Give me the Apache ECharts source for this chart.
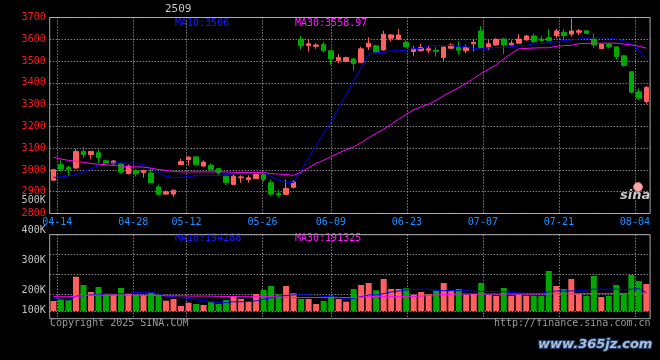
<!DOCTYPE html>
<html><head><meta charset="utf-8">
<script src="https://cdn.jsdelivr.net/npm/echarts@6/dist/echarts.min.js"></script>
<style>html,body{margin:0;padding:0;background:#000;}#c{width:660px;height:360px;}</style>
</head><body><div id="c"></div>
<script>
const dates = ['04-11',
'04-14','04-15','04-16','04-17','04-18','04-21','04-22','04-23','04-24','04-25',
'04-28','04-29','04-30','05-06','05-07','05-08','05-09',
'05-12','05-13','05-14','05-15','05-16','05-19','05-20','05-21','05-22','05-23',
'05-26','05-27','05-28','05-29','05-30','06-03','06-04','06-05','06-06',
'06-09','06-10','06-11','06-12','06-13','06-16','06-17','06-18','06-19','06-20',
'06-23','06-24','06-25','06-26','06-27','06-30','07-01','07-02','07-03','07-04',
'07-07','07-08','07-09','07-10','07-11','07-14','07-15','07-16','07-17','07-18',
'07-21','07-22','07-23','07-24','07-25','07-28','07-29','07-30','07-31','08-01',
'08-04','08-05','08-06'];
const dateLabels = ['04-14','04-28','05-12','05-26','06-09','06-23','07-07','07-21','08-04'];

const opens  = [2953,3024,3012,3009,3085,3071,3079,3042,3029,3028,2983,2998,2988,2986,2922,2889,2889,3025,3048,3060,3018,3021,3006,2971,2933,2964,2956,2960,2979,2941,2892,2888,2920,
3601,3571,3568,3577,3547,3501,3498,3510,3494,3565,3570,3551,3605,3600,3586,3544,3547,3550,3550,3516,3559,3562,3547,3579,3638,3564,3574,3601,3574,3582,3597,3615,3601,3607,3617,3632,3624,3632,3639,3601,3557,3577,3565,3524,3451,3359,3314];
const closes = [3001,3003,3001,3085,3071,3085,3057,3029,3041,2990,3018,2982,2998,2942,2888,2900,2907,3039,3059,3024,3036,3001,2986,2942,2971,2968,2964,2979,2957,2889,2886,2915,2945,
3570,3579,3574,3547,3510,3516,3516,3488,3556,3582,3541,3623,3620,3620,3565,3556,3562,3556,3544,3564,3574,3550,3562,3586,3562,3579,3600,3574,3582,3601,3615,3589,3594,3594,3638,3617,3638,3639,3627,3574,3577,3566,3521,3480,3357,3329,3379];
const lows   = [2948,2991,2972,3005,3055,3051,3030,3025,3020,2983,2980,2970,2965,2938,2882,2885,2877,3025,3021,3022,3014,3000,2975,2929,2933,2942,2942,2958,2945,2880,2874,2885,2915,
3551,3544,3556,3541,3483,3491,3495,3456,3492,3551,3538,3548,3589,3598,3563,3524,3544,3536,3521,3501,3556,3529,3536,3544,3560,3551,3570,3532,3572,3580,3595,3582,3586,3592,3605,3597,3612,3620,3625,3559,3555,3559,3509,3474,3351,3321,3305];
const highs  = [3005,3044,3021,3097,3105,3087,3094,3048,3046,3032,3025,3003,3001,3006,2933,2905,2910,3051,3062,3062,3044,3030,3008,2975,2980,2975,2975,2983,2991,2956,2910,2956,2953,
3615,3597,3582,3589,3550,3532,3520,3512,3565,3609,3575,3639,3624,3647,3595,3570,3579,3570,3564,3566,3582,3592,3575,3601,3660,3597,3605,3607,3595,3623,3620,3627,3616,3647,3647,3647,3695,3647,3642,3627,3579,3583,3567,3526,3453,3374,3385];

const ma10 = [2966,2968,2972,2980,2991,3005,3020,3028,3032,3032,3031,3031,3025,3008,2988,2970,2965,2966,2970,2974,2974,2974,2975,2978,2983,2989,2991,2991,2985,2970,2955,2943,2942,
2998,3055,3112,3169,3222,3284,3346,3408,3470,3532,3539,3540,3547,3547,3550,3557,3558,3570,3571,3571,3571,3566,3566,3557,3556,3560,3562,3562,3566,3570,3572,3579,3580,3584,3589,3594,3597,3601,3603,3608,3607,3606,3600,3592,3578,3548,3506];
const ma30 = [3059,3050,3044,3040,3035,3030,3026,3024,3021,3018,3015,3014,3013,3008,3002,2998,2993,2991,2991,2991,2991,2991,2991,2991,2989,2988,2988,2988,2988,2983,2981,2979,2975,
2990,3010,3030,3045,3060,3078,3093,3106,3125,3148,3168,3188,3210,3233,3255,3276,3290,3302,3320,3341,3360,3378,3398,3420,3443,3463,3483,3510,3535,3556,3558,3560,3561,3561,3568,3571,3572,3580,3581,3582,3582,3582,3582,3578,3574,3568,3559];

const volumes = [165700,172300,169000,246700,219000,195700,212300,188000,186700,209000,191300,185700,185700,192300,185700,166700,172300,149000,160000,155700,152300,163300,155700,169000,182300,172300,165700,189000,202300,215700,188000,215700,191300,
172300,172300,155700,165700,183300,172300,163300,205700,219000,225700,201300,239000,205700,205700,208000,186700,195700,188000,201300,225700,200000,205700,185700,189000,225700,185700,182300,209000,182300,186700,183300,183300,183300,265700,215700,205700,239000,189000,183300,249000,179000,183300,219000,192300,252300,232300,222300];
const volMa10 = [172000,172000,168000,182000,183000,186000,186000,190000,190000,190000,190000,194000,195000,195000,190000,182000,180000,177000,175000,169000,168000,162000,161000,160000,163000,163000,164000,166000,172000,176000,182000,184000,186000,
186000,186000,184000,181000,180000,178000,172000,174000,180000,186000,186000,190000,196000,199000,202000,204000,205000,205000,201000,200000,200000,200000,200000,198000,198000,197000,197000,197000,194000,192000,191000,191000,191000,196000,199000,199000,199000,200000,202000,205000,205000,205000,205000,204000,205000,207000,194288];
const volMa30 = [180000,180000,180000,181000,183000,184000,185000,185000,185000,185000,185000,185000,185000,184000,184000,183000,183000,183000,182000,182000,182000,182000,181000,181000,180000,180000,180000,180000,180000,180000,179000,178000,177000,
177000,177000,177000,177000,177000,177000,177000,177000,178000,180000,181000,181000,181000,181000,181000,181000,182000,184000,186000,187000,188000,189000,189000,189000,189000,189000,189000,189000,189000,189000,189000,189000,189000,190000,190000,190000,190000,190000,191000,191000,191000,191000,191000,191000,191000,191000,191325];

const priceTicks = {min: 2800, max: 3700, step: 100};
const volLabelTicks = {min: 100000, max: 500000, step: 100000};
const maTexts = {priceMa10: 'MA10:3506', priceMa30: 'MA30:3558.97', volMa10: 'MA10:194288', volMa30: 'MA30:191325'};

const UP = '#ff5f5f', DOWN = '#00a800';
const MONO = '"DejaVu Sans Mono", "Liberation Mono", monospace';
const GRIDC = '#bdbdbd', BORDERC = '#a8a8a8';
const labelSet = new Set(dateLabels);
const showLabel = (i, v) => labelSet.has(v);

const candleData = opens.map((o, i) => [o, closes[i], lows[i], highs[i]]);
const volData = volumes.map((v, i) => ({value: v, itemStyle: {color: closes[i] >= opens[i] ? UP : DOWN}}));

const L = 49.7, W = 600.4;
const volBase = 132300, volTop = 386667;
const dotted = {color: GRIDC, width: 1, type: [1, 2]};

const chart = echarts.init(document.getElementById('c'), null, {renderer: 'canvas'});
chart.setOption({
  backgroundColor: '#000',
  animation: false,
  grid: [
    {left: L, top: 17.5, width: W, height: 196, show: true, borderColor: BORDERC, borderWidth: 1},
    {left: L, top: 234.7, width: W, height: 84, show: true, borderColor: BORDERC, borderWidth: 1},
    {left: L, top: 234.7, width: W, height: 76.3},
    {left: L, top: 200.7, width: W, height: 120}
  ],
  xAxis: [
    {gridIndex: 0, type: 'category', data: dates, boundaryGap: true, show: false, position: 'top'},
    {gridIndex: 0, type: 'category', data: dates, boundaryGap: false, position: 'bottom',
      axisLine: {show: false}, axisTick: {show: false},
      axisLabel: {interval: showLabel, color: '#1e90ff', fontFamily: MONO, fontSize: 10, margin: 4, hideOverlap: false},
      splitLine: {show: true, interval: showLabel, lineStyle: dotted}},
    {gridIndex: 2, type: 'category', data: dates, boundaryGap: true, show: false},
    {gridIndex: 1, type: 'category', data: dates, boundaryGap: false,
      axisLine: {show: false}, axisTick: {show: false}, axisLabel: {show: false},
      splitLine: {show: true, interval: showLabel, lineStyle: dotted}},
    {gridIndex: 3, type: 'category', data: dates, show: false}
  ],
  yAxis: [
    {gridIndex: 0, type: 'value', min: priceTicks.min, max: priceTicks.max, interval: priceTicks.step,
      axisLine: {show: false}, axisTick: {show: false},
      axisLabel: {color: '#ff1a1a', fontFamily: MONO, fontSize: 10, margin: 4, formatter: v => String(v)},
      splitLine: {show: true, lineStyle: dotted}},
    {gridIndex: 1, type: 'value', show: false},
    {gridIndex: 2, type: 'value', min: volBase, max: volTop, show: false},
    {gridIndex: 2, type: 'value', inverse: true, min: 0, max: 76.3, interval: 20,
      axisLine: {show: false}, axisTick: {show: false}, axisLabel: {show: false},
      splitLine: {show: true, lineStyle: dotted}},
    {gridIndex: 3, type: 'value', min: volLabelTicks.min, max: volLabelTicks.max, interval: volLabelTicks.step,
      axisLine: {show: false}, axisTick: {show: false}, splitLine: {show: false},
      axisLabel: {color: '#c4c4c4', fontFamily: MONO, fontSize: 10, margin: 4,
        formatter: v => v === volLabelTicks.min ? '{up|' + (v / 1000) + 'K}' : (v / 1000) + 'K',
        rich: {up: {color: '#c4c4c4', fontFamily: MONO, fontSize: 10, padding: [0, 0, 20, 0]}}}}
  ],
  series: [
    {type: 'candlestick', xAxisIndex: 0, yAxisIndex: 0, data: candleData, barWidth: 5,
      itemStyle: {color: UP, color0: DOWN, borderColor: UP, borderColor0: DOWN, borderWidth: 1}},
    {type: 'line', xAxisIndex: 0, yAxisIndex: 0, data: ma10, symbol: 'none', lineStyle: {color: '#0000ff', width: 1}, z: 3},
    {type: 'line', xAxisIndex: 0, yAxisIndex: 0, data: ma30, symbol: 'none', lineStyle: {color: '#ff00ff', width: 1}, z: 3},
    {type: 'bar', xAxisIndex: 2, yAxisIndex: 2, data: volData, barWidth: 6},
    {type: 'line', xAxisIndex: 2, yAxisIndex: 2, data: volMa10, symbol: 'none', lineStyle: {color: '#0000ff', width: 1}, z: 3},
    {type: 'line', xAxisIndex: 2, yAxisIndex: 2, data: volMa30, symbol: 'none', lineStyle: {color: '#ff00ff', width: 1}, z: 3}
  ],
  graphic: [
    {type: 'text', left: 165, top: 4, style: {text: '2509', fill: '#c8c8c8', font: '11px ' + MONO}},
    {type: 'text', left: 175, top: 18, style: {text: maTexts.priceMa10, fill: '#1a1aff', font: '10px ' + MONO}},
    {type: 'text', left: 295, top: 18, style: {text: maTexts.priceMa30, fill: '#ff1aff', font: '10px ' + MONO}},
    {type: 'text', left: 175, top: 233, style: {text: maTexts.volMa10, fill: '#1a1aff', font: '10px ' + MONO}},
    {type: 'text', left: 295, top: 233, style: {text: maTexts.volMa30, fill: '#ff1aff', font: '10px ' + MONO}},
    {type: 'text', left: 50, top: 318, style: {text: 'Copyright 2025 SINA.COM', fill: '#9a9a9a', font: '10px ' + MONO}},
    {type: 'text', left: 494, top: 318, style: {text: 'http://finance.sina.com.cn', fill: '#9a9a9a', font: '10px ' + MONO}},
    {type: 'circle', shape: {cx: 638, cy: 187, r: 4.5}, style: {fill: '#f0b0b0', stroke: '#e06060', lineWidth: 1}},
    {type: 'text', left: 620, top: 189, style: {text: 'sina', fill: '#c8c8c8', font: 'italic bold 13px "DejaVu Sans"'}},
    {type: 'text', left: 537, top: 337, style: {text: 'www.365jz.com', fill: '#a9bdd6', stroke: '#1d3a66', lineWidth: 2, font: 'italic bold 13px "DejaVu Sans"'}}
  ]
});
</script></body></html>
